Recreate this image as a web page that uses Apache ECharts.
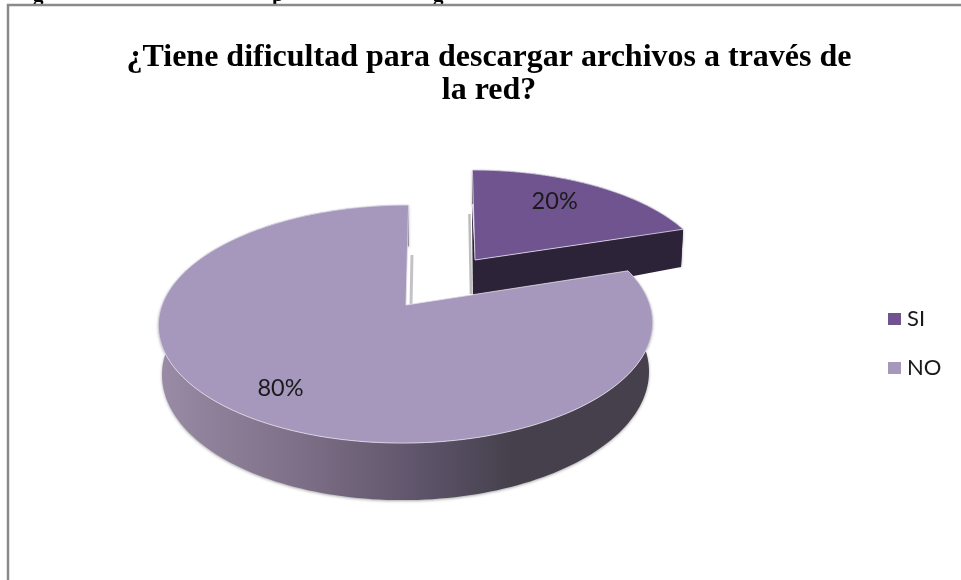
<!DOCTYPE html>
<html>
<head>
<meta charset="utf-8">
<style>html,body{margin:0;padding:0;background:#fff}#c{width:961px;height:580px}</style>
<script src="https://cdn.jsdelivr.net/npm/echarts@6/dist/echarts.min.js"></script>
</head>
<body>
<div id="c"></div>
<script>
var categories = ['SI', 'NO'];
var values = [20, 80];
var sliceLabels = ['20%', '80%'];
var titleText = '¿Tiene dificultad para descargar archivos a través de\nla red?';

var total = values.reduce(function (a, b) { return a + b; }, 0);
var topColors = ['#6F5490', '#A698BC'];
var wallFills = [
  '#2C2338',
  { type: 'linear', x: 158, y: 0, x2: 652, y2: 0, global: true, colorStops: [
    { offset: 0, color: '#9A8BA6' }, { offset: 0.27, color: '#7F7189' },
    { offset: 0.55, color: '#5C5268' }, { offset: 0.72, color: '#45404C' }, { offset: 1, color: '#45404C' }
  ] }
];
// perspective view of each slice: apex position, scale, lean, extrusion depth
var views = [
  { ax: 475, ay: 260, sx: 0.945, sy: 0.90, lean: -3, depth: 47, inset: 0.99 },
  { ax: 406, ay: 305, sx: 1, sy: 1, lean: 3, depth: 57, inset: 0.985 }
];
var labelPos = [{ t: 32, r: 0.732 }, { t: 215, r: 0.79 }];
var A = 244, B = 116, P = 0.16;

function project(view, deg, r, down) {
  var th = deg * Math.PI / 180, u = r * Math.sin(th), v = r * Math.cos(th), d = 1 + P * v;
  var k = down ? view.inset : 1;
  return [
    view.ax + view.sx * k * A * u / d + view.lean * v / d,
    view.ay - view.sy * B * v / d + (down ? view.depth / (d * 1.19) : 0)
  ];
}
function arc(view, a0, a1, down) {
  var pts = [], n = Math.ceil(Math.abs(a1 - a0) / 1.5);
  for (var i = 0; i <= n; i++) pts.push(project(view, a0 + (a1 - a0) * i / n, 1, down));
  return pts;
}
function sliceRender(idx) {
  return function (params, api) {
    var before = 0;
    for (var i = 0; i < idx; i++) before += values[i];
    var a0 = before / total * 360, a1 = a0 + api.value(0) / total * 360;
    var view = views[idx];
    var rimTop = arc(view, a0, a1, false), rimLow = arc(view, a0, a1, true);
    var apex = [view.ax, view.ay];
    var children = [];
    // soft shadow + outer wall
    children.push({ type: 'polygon', shape: { points: rimTop.concat(rimLow.slice().reverse()) },
      style: { fill: wallFills[idx], shadowColor: 'rgba(0,0,0,0.35)', shadowBlur: 3, shadowOffsetY: 1 } });
    // cut wall
    var cutDepth = idx === 0 ? 46 : 0;
    if (idx === 0) {
      var p0 = rimTop[0];
      children.push({ type: 'polygon', shape: { points: [apex, rimTop[rimTop.length - 1], rimLow[rimLow.length - 1], [apex[0], apex[1] + cutDepth]] },
        style: { fill: wallFills[0] } });
      children.push({ type: 'polygon', shape: { points: [[p0[0] - 0.5, p0[1] + 32], apex, [apex[0], apex[1] + cutDepth], [apex[0] - 2, apex[1] + cutDepth]] },
        style: { fill: '#2C2338' } });
      children.push({ type: 'line', shape: { x1: p0[0] - 3, y1: p0[1] + 44, x2: apex[0] - 4, y2: apex[1] + 34 },
        style: { stroke: '#BDBDBD', lineWidth: 2.5 } });
    } else {
      children.push({ type: 'line', shape: { x1: apex[0] + 6, y1: apex[1] - 50, x2: apex[0] + 5, y2: apex[1] },
        style: { stroke: '#C4C2C8', lineWidth: 3 } });
    }
    // top face
    children.push({ type: 'polygon', shape: { points: [apex].concat(rimTop) },
      style: { fill: topColors[idx], stroke: '#E4E0EA', lineWidth: 0.8 } });
    // percentage label
    var lp = project(view, labelPos[idx].t, labelPos[idx].r, false);
    children.push({ type: 'text', style: { text: sliceLabels[idx], x: lp[0], y: lp[1], align: 'center', verticalAlign: 'middle',
      fill: '#1a1a1a', font: '23.5px Lato' } });
    return { type: 'group', children: children };
  };
}

var series = categories.map(function (name, i) {
  return {
    type: 'custom', name: name, coordinateSystem: 'none', silent: true,
    itemStyle: { color: topColors[i] },
    data: [[values[i]]],
    renderItem: sliceRender(i),
    z: i + 1
  };
});

var chart = echarts.init(document.getElementById('c'), null, { renderer: 'canvas' });
chart.setOption({
  backgroundColor: '#fff',
  animation: false,
  title: {
    text: titleText, left: 484, top: 36, textAlign: 'center',
    textStyle: { fontFamily: 'Liberation Serif', fontWeight: 'bold', fontSize: 32, lineHeight: 33, color: '#000' }
  },
  legend: {
    data: categories, orient: 'vertical', left: 883, top: 303, itemWidth: 13, itemHeight: 12, itemGap: 27,
    icon: 'rect', selectedMode: false,
    textStyle: { fontFamily: 'Lato', fontSize: 22, color: '#1a1a1a', padding: [0, 0, 0, 1] }
  },
  series: series,
  graphic: [
    { type: 'line', shape: { x1: 7, y1: 5, x2: 961, y2: 5 }, style: { stroke: '#8a8a8a', lineWidth: 2.5 }, z: 10 },
    { type: 'line', shape: { x1: 8, y1: 4, x2: 8, y2: 580 }, style: { stroke: '#8a8a8a', lineWidth: 2.5 }, z: 10 },
    { type: 'text', x: 33, y: -15, style: { text: 'g', font: 'bold 21px Liberation Serif', fill: '#000' } },
    { type: 'text', x: 272, y: -15, style: { text: 'p', font: 'bold 21px Liberation Serif', fill: '#000' } },
    { type: 'text', x: 433, y: -15, style: { text: 'g', font: 'bold 21px Liberation Serif', fill: '#000' } }
  ]
});
</script>
</body>
</html>
